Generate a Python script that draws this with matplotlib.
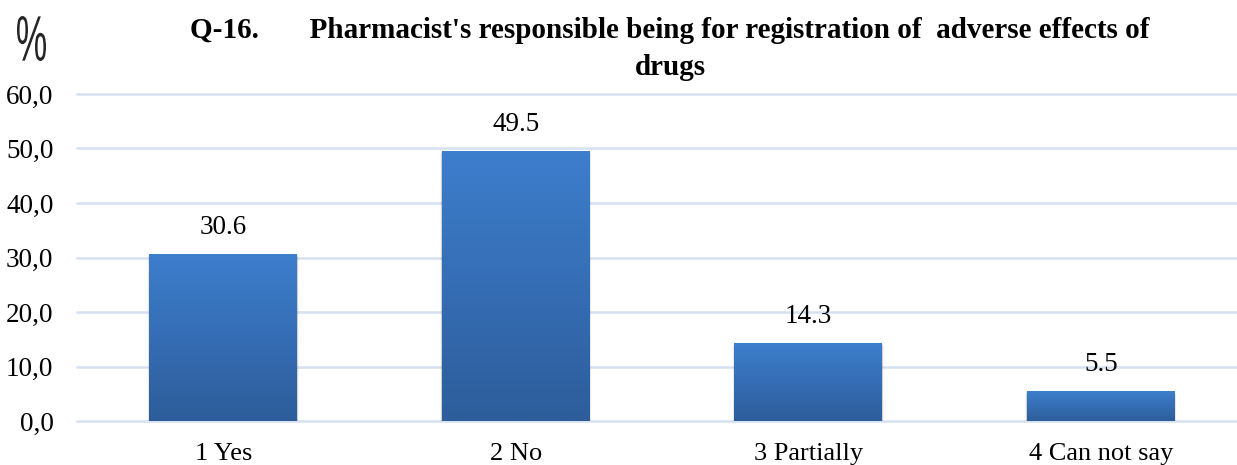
import numpy as np
import matplotlib
matplotlib.use("Agg")
import matplotlib.pyplot as plt
from matplotlib.patches import Rectangle, PathPatch
from matplotlib.textpath import TextPath
from matplotlib.font_manager import FontProperties
from matplotlib.transforms import Affine2D, IdentityTransform

categories = ["1 Yes", "2 No", "3 Partially", "4 Can not say"]
values = [30.6, 49.5, 14.3, 5.5]
yticks = [0, 10, 20, 30, 40, 50, 60]
ytick_labels = ["0,0", "10,0", "20,0", "30,0", "40,0", "50,0", "60,0"]
title = "Q-16.       Pharmacist's responsible being for registration of  adverse effects of\ndrugs"

serif = "Liberation Serif"

W, H = 1237, 465
fig = plt.figure(figsize=(W / 100, H / 100), dpi=100)
# plot area in pixels: left 77, right 1247 (past the edge), y=0 at 421, y=60 at 94
left, right = 77, 1247
bottom, top = 421, 94
ax = fig.add_axes([left / W, 1 - bottom / H, (right - left) / W, (bottom - top) / H])
ax.set_facecolor("none")
for s in ax.spines.values():
    s.set_visible(False)

for y in yticks:
    ax.axhline(y, color="#d5e1f1", lw=1.8, zorder=0, clip_on=False)

ax.set_yticks(yticks)
ax.set_yticklabels(ytick_labels, fontfamily=serif, fontsize=19.5)
ax.set_xticks(range(len(categories)))
ax.set_xticklabels(categories, fontfamily=serif, fontsize=19)
ax.tick_params(axis="both", length=0)
ax.tick_params(axis="x", pad=15.5)
ax.tick_params(axis="y", pad=17)

bw = 0.505
top_c = np.array([0x3d, 0x7e, 0xcd]) / 255
bot_c = np.array([0x2d, 0x5d, 0x9b]) / 255
grad = np.linspace(0, 1, 256)[:, None, None]
img = top_c * (1 - grad) + bot_c * grad  # row 0 at top

for i, v in enumerate(values):
    x0 = i - bw / 2
    # soft drop shadow under the bar
    for k, a in enumerate([0.10, 0.06, 0.03]):
        dx = 0.002 * (k + 1)
        dy = 0.2 * (k + 1)
        ax.add_patch(Rectangle((x0 - dx, -dy), bw + 2 * dx, v, color="black",
                               alpha=a, lw=0, zorder=1))
    ax.imshow(np.tile(img, (1, 2, 1)), extent=(x0, x0 + bw, 0, v), aspect="auto",
              zorder=2, interpolation="bilinear")
    ax.text(i, v + 2.6, f"{v:.1f}", ha="center", va="bottom", fontfamily=serif,
            fontsize=19.5, color="black")

ax.set_xlim(-0.5, len(categories) - 0.5)
ax.set_ylim(0, 60)

fig.text(670 / W, 1 - 49 / H, title, ha="center", va="center", fontfamily=serif,
         fontweight="bold", fontsize=21, linespacing=1.45)

# narrow, tall percent sign as the axis unit
tp = TextPath((0, 0), "%", size=100, prop=FontProperties(family="Liberation Sans"))
bb = tp.get_extents()
px0, px1, py_top, py_bot = 17, 46, 16, 61
sx = (px1 - px0) / bb.width
sy = (py_bot - py_top) / bb.height
tr = (Affine2D().translate(-bb.x0, -bb.y0).scale(sx, sy)
      .translate(px0, H - py_bot)) + IdentityTransform()
fig.patches.append(PathPatch(tp, transform=tr, facecolor="#262626", edgecolor="none"))

fig.savefig("out.png", dpi=100)
